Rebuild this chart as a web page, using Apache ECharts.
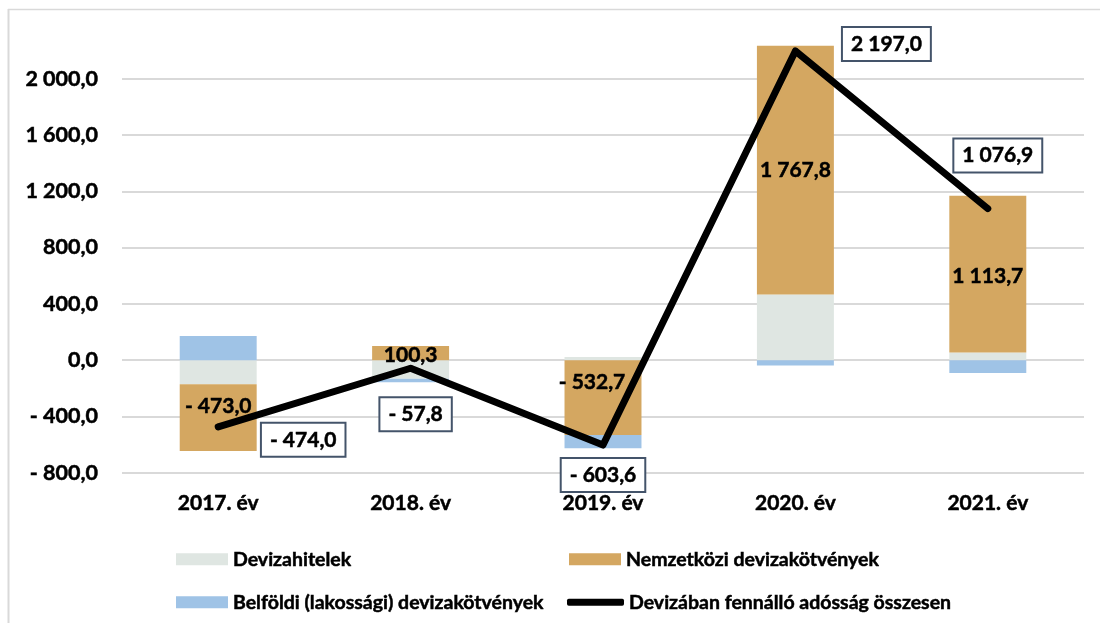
<!DOCTYPE html>
<html>
<head>
<meta charset="utf-8">
<title>Devizaadósság</title>
<script src="https://cdn.jsdelivr.net/npm/echarts@6/dist/echarts.min.js"></script>
<style>
html,body{margin:0;padding:0;background:#fff;}
#main{width:1100px;height:623px;}
</style>
</head>
<body>
<div id="main"></div>
<script>
// adatok (mrd Ft)
var years = ['2017. év', '2018. év', '2019. év', '2020. év', '2021. év'];
var devizahitelek = [-172.0, -133.0, 23.0, 467.0, 55.0];
var nemzetkozi = [-473.0, 100.3, -532.7, 1767.8, 1113.7];
var belfoldi = [171.0, -25.1, -93.9, -37.8, -91.8];
var osszesen = [-474.0, -57.8, -603.6, 2197.0, 1076.9];

var fontName = 'Lato';
var myChart = null;

//magyar számformátum: "- 1 234,5"
function fmt(v){
	var s = Math.abs(v).toFixed(1).split('.');
	s[0] = s[0].replace(/\B(?=(\d{3})+(?!\d))/g, ' ');
	return (v < 0 ? '- ' : '') + s[0] + ',' + s[1];
}

// bar label offsets, a few labels sit off center in the original
var barLabelOffset = [[0, -11], [0, 2], [-11, -15], [0, 0], [0, 2]];
// line label boxes, relative to the point
var lineLabelOffset = [[85, 13], [5, 46], [0, 30], [91, -7], [10, -53]];

function make_chart(dom_id){
	myChart = echarts.init(document.getElementById(dom_id));

	var nemzData = [];
	for(var i=0;i<nemzetkozi.length;i++){
		nemzData.push({
			value: nemzetkozi[i],
			label: {offset: barLabelOffset[i]}
		});
	}
	var totalData = [];
	for(var k=0;k<osszesen.length;k++){
		totalData.push({
			value: osszesen[k],
			label: {offset: lineLabelOffset[k]}
		});
	}

	var gridColors = [];
	for(var j=0;j<8;j++){ gridColors.push('#d9d9d9'); }
	gridColors.push('rgba(0,0,0,0)');

	// a bit heavier than plain bold, closer to the original
	var heavy = {
		fontFamily: fontName,
		fontWeight: 'bold',
		color: '#000',
		textBorderColor: '#000',
		textBorderWidth: 0.5
	};
	var legendText = echarts.util.extend({fontSize: 19.5}, heavy);

	var option = {
		animation: false,
		backgroundColor: '#fff',
		textStyle: {fontFamily: fontName},
		graphic: [
			{type: 'line', shape: {x1: 8.5, y1: 9, x2: 8.5, y2: 623}, style: {stroke: '#d9d9d9', lineWidth: 2}},
			{type: 'line', shape: {x1: 8, y1: 9.5, x2: 1100, y2: 9.5}, style: {stroke: '#d9d9d9', lineWidth: 1.5}}
		],
		grid: {left: 122, right: 16, top: 22.4, bottom: 150.3},
		legend: [
			{
				data: ['Devizahitelek'], left: 171, top: 544,
				itemWidth: 52, itemHeight: 12, itemGap: 5, icon: 'rect',
				textStyle: legendText
			},
			{
				data: ['Nemzetközi devizakötvények'], left: 564, top: 544,
				itemWidth: 52, itemHeight: 12, itemGap: 5, icon: 'rect',
				textStyle: legendText
			},
			{
				data: ['Belföldi (lakossági) devizakötvények'], left: 171, top: 587,
				itemWidth: 52, itemHeight: 12, itemGap: 5, icon: 'rect',
				textStyle: legendText
			},
			{
				data: [{name: 'Devizában fennálló adósság összesen', icon: 'roundRect', itemStyle: {color: '#000'}}],
				left: 562, top: 587,
				itemWidth: 57, itemHeight: 7, itemGap: 4,
				textStyle: legendText
			}
		],
		xAxis: {
			type: 'category',
			data: years,
			axisLine: {show: false},
			axisTick: {show: false},
			axisLabel: echarts.util.extend({margin: 20, fontSize: 21}, heavy)
		},
		yAxis: {
			type: 'value',
			min: -800,
			max: 2400,
			interval: 400,
			axisLine: {show: false},
			axisTick: {show: false},
			splitLine: {lineStyle: {color: gridColors, width: 2}},
			axisLabel: echarts.util.extend({
				margin: 24,
				fontSize: 21.5,
				formatter: function(v){
					if(v >= 2400) return '';
					return fmt(v);
				}
			}, heavy)
		},
		series: [
			{
				name: 'Devizahitelek',
				type: 'bar',
				stack: 'ossz',
				barWidth: '40%',
				itemStyle: {color: '#dfe6e2'},
				data: devizahitelek
			},
			{
				name: 'Nemzetközi devizakötvények',
				type: 'bar',
				stack: 'ossz',
				barWidth: '40%',
				itemStyle: {color: '#d4a761'},
				label: echarts.util.extend({
					show: true,
					position: 'inside',
					fontSize: 21,
					formatter: function(p){ return fmt(p.value); }
				}, heavy),
				data: nemzData
			},
			{
				name: 'Belföldi (lakossági) devizakötvények',
				type: 'bar',
				stack: 'ossz',
				barWidth: '40%',
				itemStyle: {color: '#9fc3e6'},
				data: belfoldi
			},
			{
				name: 'Devizában fennálló adósság összesen',
				type: 'line',
				z: 5,
				symbol: 'circle',
				symbolSize: 6,
				itemStyle: {color: '#000'},
				lineStyle: {color: '#000', width: 7, cap: 'round', join: 'round'},
				label: echarts.util.extend({
					show: true,
					position: 'inside',
					fontSize: 21,
					backgroundColor: '#fff',
					borderColor: '#44546a',
					borderWidth: 2,
					padding: [6, 8, 5, 8],
					formatter: function(p){ return fmt(p.value); }
				}, heavy),
				data: totalData
			}
		]
	};

	myChart.setOption(option);
}

make_chart('main');
</script>
</body>
</html>
